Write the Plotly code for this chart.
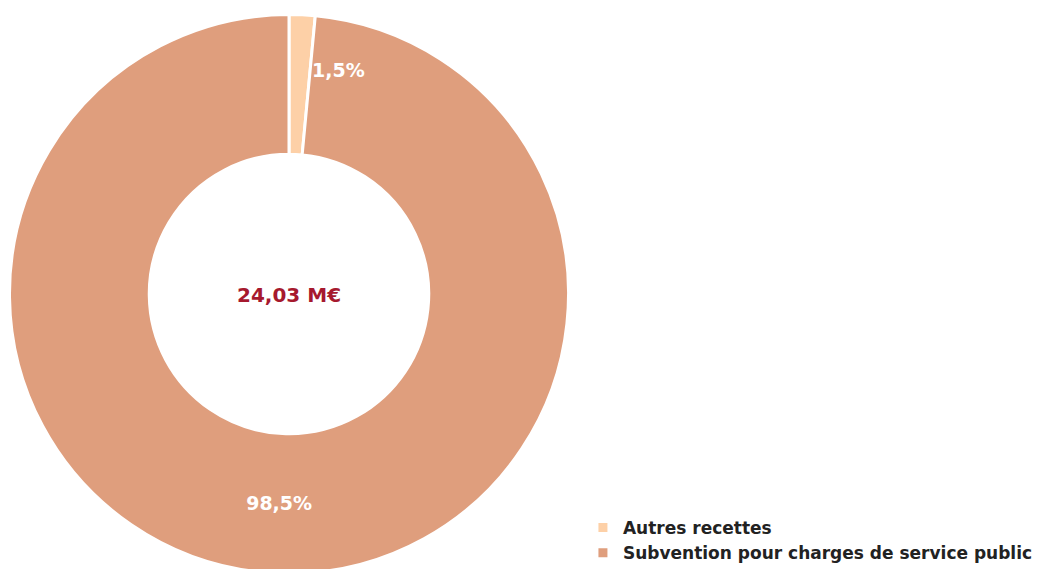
import plotly.graph_objects as go

labels = ["Autres recettes", "Subvention pour charges de service public"]
values = [1.5, 98.5]
colors = ["#FDD0A7", "#DF9E7D"]
total_label = "24,03 M€"

W, H = 1053, 569
FONT = "DejaVu Sans"


def pct(v):
    return f"{v:.1f}".replace(".", ",") + "%"


texts = ["", pct(values[1])]

# page has an 8px body margin, so compensate in figure coords
dom_x = [1.5 / W, 560.5 / W]
dom_y = [3.5 / H, 562.5 / H]

fig = go.Figure(
    go.Pie(
        labels=labels,
        values=values,
        text=texts,
        textinfo="text",
        textposition="inside",
        insidetextorientation="horizontal",
        hole=0.5,
        sort=False,
        direction="clockwise",
        rotation=0,
        marker=dict(colors=colors, line=dict(color="white", width=3)),
        textfont=dict(family=FONT, size=19, color="white", weight="bold"),
        domain=dict(x=dom_x, y=dom_y),
        hoverinfo="label+percent",
    )
)

fig.add_annotation(
    x=281 / W, y=1 - 287 / H, xref="paper", yref="paper",
    xanchor="center", yanchor="middle",
    text=total_label, showarrow=False,
    font=dict(family=FONT, size=20, color="#A6192E", weight="bold"),
)
fig.add_annotation(
    x=330 / W, y=1 - 62 / H, xref="paper", yref="paper",
    xanchor="center", yanchor="middle",
    text=pct(values[0]), showarrow=False,
    font=dict(family=FONT, size=19, color="white", weight="bold"),
)

fig.update_layout(
    width=W,
    height=H,
    margin=dict(l=0, r=0, t=0, b=0),
    paper_bgcolor="white",
    plot_bgcolor="white",
    showlegend=True,
    legend=dict(
        x=0.546, y=6 / H, xanchor="left", yanchor="bottom",
        font=dict(family=FONT, size=17, color="#222222", weight="bold"),
        traceorder="normal",
    ),
)

fig.write_html("out.html")
